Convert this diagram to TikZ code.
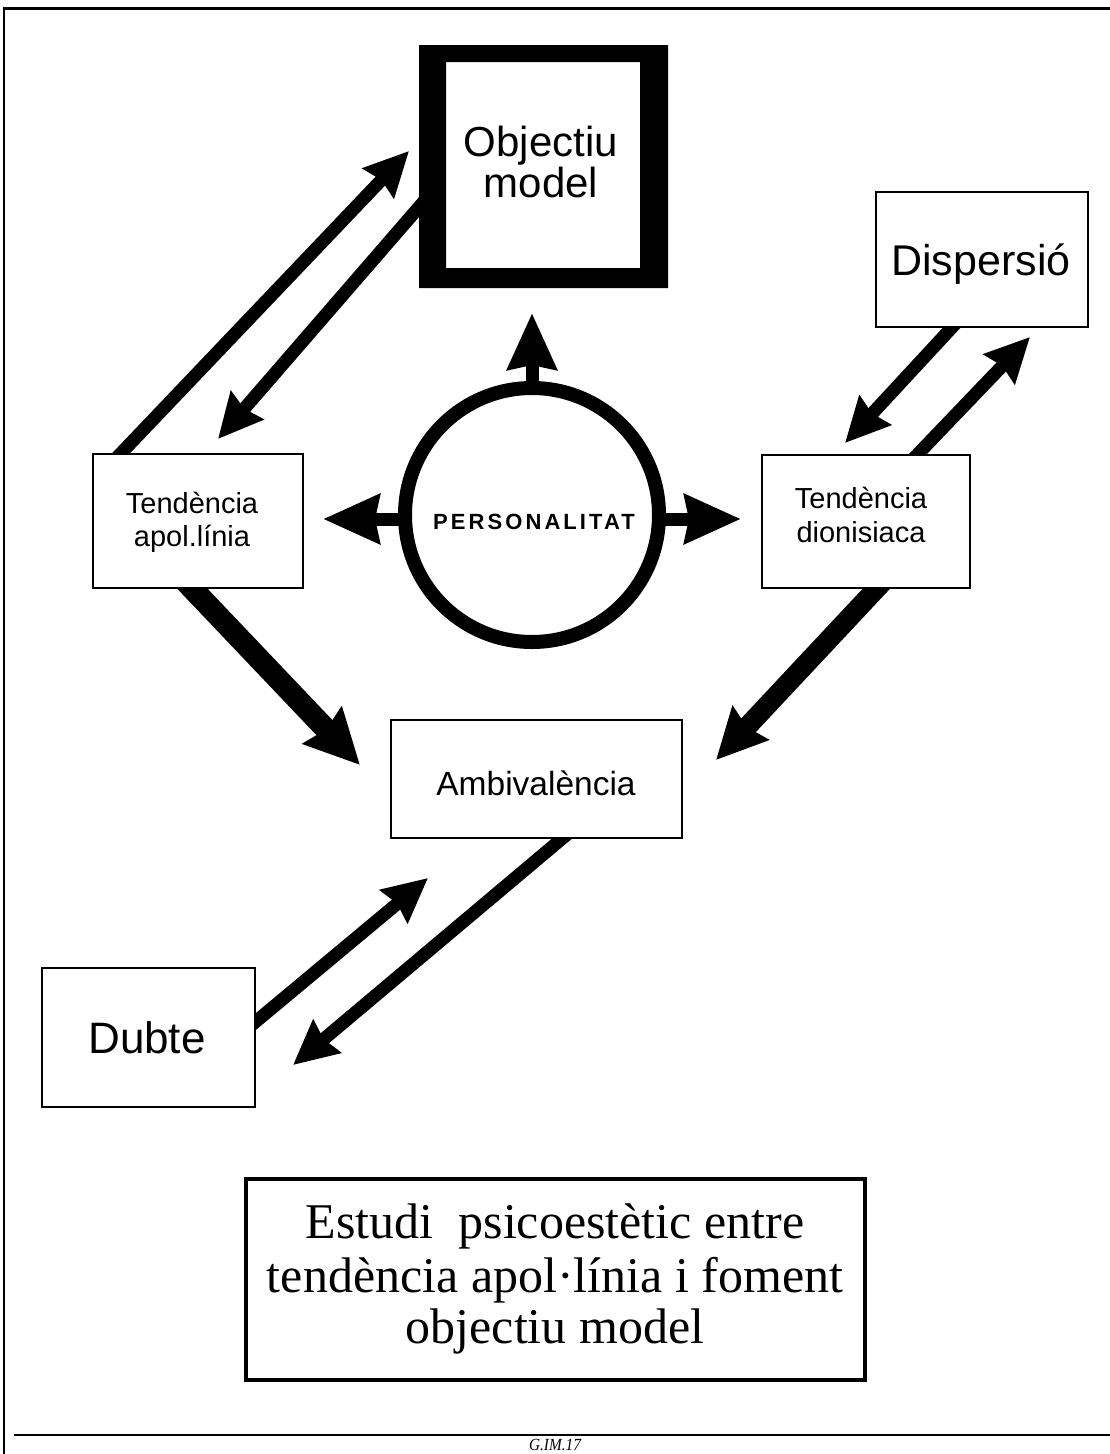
\documentclass[tikz,border=0pt]{standalone}
\usepackage{fontspec}
\setmainfont{Liberation Serif}
\setsansfont{Liberation Sans}
\usetikzlibrary{arrows.meta,calc}
\pgfdeclarelayer{bg}
\pgfsetlayers{bg,main}
\begin{document}
\begin{tikzpicture}[x=1pt,y=-1pt,
  box/.style={draw,line width=2.5pt,fill=white,inner sep=0pt,outer sep=0pt},
  lbl/.style={inner sep=0pt,outer sep=0pt,anchor=base},
  boxfont/.style={font=\sffamily\fontsize{#1}{#1}\selectfont},
  conn/.style={line width=13pt,shorten <=-10pt,-{Stealth[length=44pt,width=42pt,inset=4pt]}},
  bigconn/.style={line width=22pt,shorten <=-14pt,-{Stealth[length=54pt,width=52pt,inset=5pt]}},
  radial/.style={line width=13pt,shorten <=-10pt,-{Stealth[length=56pt,width=48pt,inset=4pt]}},
]
\useasboundingbox (0,0) rectangle (1110,1454);
% page frame
\draw[line width=2pt] (4,1454) -- (4,8.5);
\draw[line width=2.5pt] (3,8.5) -- (1110,8.5);
\draw[line width=2.5pt] (14,1435) -- (1110,1435);
\node[lbl,font=\itshape\fontsize{17}{17}\selectfont] (foot) at (555,1450.5) {\scalebox{0.9}[1]{G.IM.17}};

% nodes
\node[inner sep=0pt,outer sep=0pt,minimum width=249pt,minimum height=243pt] (obj) at (543.5,166.5) {};
\fill[even odd rule] (obj.north west) rectangle (obj.south east)
  ($(obj.north west)+(27,17)$) rectangle ($(obj.south east)+(-28,-20)$);
\node[box,minimum width=210pt,minimum height=134pt] (apo) at (198,521) {};
\node[box,minimum width=208pt,minimum height=133pt] (dio) at (866,521.5) {};
\node[box,minimum width=212pt,minimum height=135pt] (dis) at (982,259.5) {};
\node[box,minimum width=291pt,minimum height=118pt] (amb) at (536.5,779) {};
\node[box,minimum width=213pt,minimum height=139pt] (dub) at (148.5,1037.5) {};
\node[draw,line width=4.5pt,inner sep=0pt,outer sep=0pt,minimum width=619pt,minimum height=201pt] (tit) at (555.5,1279.5) {};
\node[circle,draw,fill=white,line width=14pt,minimum size=254pt,inner sep=0pt] (circ) at (532,515) {};

% labels
\node[lbl,boxfont=42] (objt1) at (541,156) {Objectiu};
\node[lbl,boxfont=42] (objt2) at (541,197) {model};
\node[lbl,boxfont=43] (dist) at (981,275) {Dispersió};
\node[lbl,boxfont=29] (apot1) at (192,513) {Tendència};
\node[lbl,boxfont=29] (apot2) at (192,546) {apol.línia};
\node[lbl,boxfont=29] (diot1) at (861,508) {Tendència};
\node[lbl,boxfont=29] (diot2) at (861,542) {dionisiaca};
\node[lbl,font=\sffamily\bfseries\fontsize{22}{22}\selectfont\addfontfeature{LetterSpace=14}] (pers) at (534,529) {PERSONALITAT};
\node[lbl,boxfont=33.5] (ambt) at (536,795) {Ambivalència};
\node[lbl,boxfont=44] (dubt) at (147,1053) {Dubte};
\node[lbl,font=\fontsize{50}{50}\selectfont] (tit1) at (555,1238) {Estudi~~psicoestètic entre};
\node[lbl,font=\fontsize{50}{50}\selectfont] (tit2) at (555,1292) {tendència apol·línia i foment};
\node[lbl,font=\fontsize{50}{50}\selectfont] (tit3) at (555,1343) {objectiu model};

% connectors
\begin{pgfonlayer}{bg}
\coordinate (tA) at (409,151);
\coordinate (tB) at (218,439);
\coordinate (tTop) at (532,313);
\coordinate (tL) at (323,519);
\coordinate (tR) at (741,519);
\coordinate (tC) at (845,443);
\coordinate (tD) at (1030,337);
\coordinate (tE) at (360,765);
\coordinate (tF) at (716,760);
\coordinate (tG) at (428,878);
\coordinate (tH) at (293,1065);
\draw[conn] ($(apo.north west)!0.13!(apo.north east)$) -- (tA);
\draw[conn] ($(obj.north west)!0.667!(obj.south west)$) -- (tB);
\draw[radial] (circ.north) -- (tTop);
\draw[radial] ($(circ.west)+(0,4)$) -- (tL);
\draw[radial] ($(circ.east)+(0,4)$) -- (tR);
\draw[conn] ($(dis.south west)!0.36!(dis.south east)$) -- (tC);
\draw[conn] ($(dio.north west)!0.745!(dio.north east)$) -- (tD);
\draw[bigconn] ($(apo.south west)!0.47!(apo.south east)$) -- (tE);
\draw[bigconn,line width=20pt,-{Stealth[length=50pt,width=48pt,inset=5pt]}] ($(dio.south west)!0.553!(dio.south east)$) -- (tF);
\draw[conn] ($(dub.north east)!0.39!(dub.south east)$) -- (tG);
\draw[conn] ($(amb.south west)!0.59!(amb.south east)$) -- (tH);
\end{pgfonlayer}
\end{tikzpicture}
\end{document}
